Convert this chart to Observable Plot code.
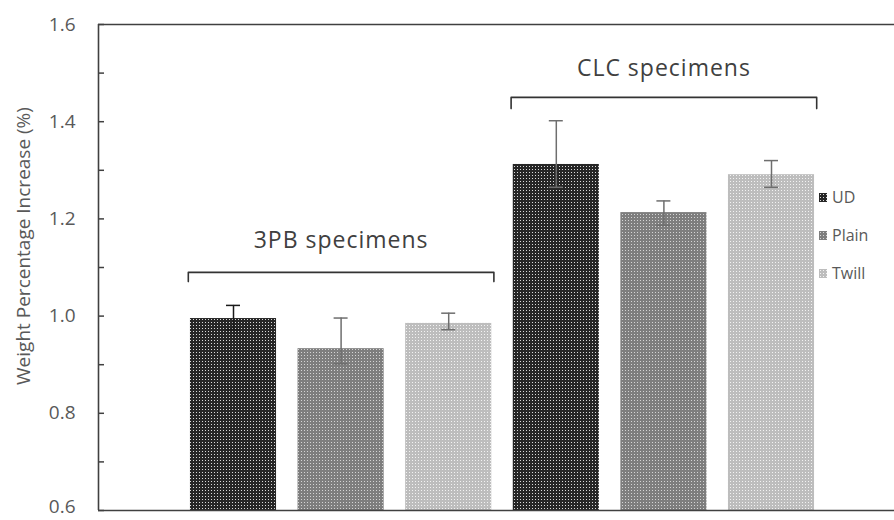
<!DOCTYPE html>
<html>
<head>
<meta charset="utf-8">
<script src="https://cdn.jsdelivr.net/npm/d3@7"></script>
<script src="https://cdn.jsdelivr.net/npm/@observablehq/plot@0.6"></script>
<style>
  body { margin: 0; background: #fff; }
  #wrap { position: relative; width: 894px; height: 520px; font-family: "Open Sans", sans-serif; }
  .leg { position: absolute; left: 819px; display: flex; align-items: center; font-size: 16px; color: #595959; height: 20px; }
  .leg svg { margin-right: 5px; }
</style>
</head>
<body>
<div id="wrap"></div>
<script>
// ---- data ----
const groups = ["3PB specimens", "CLC specimens"];
const series = ["UD", "Plain", "Twill"];
const mean3PB = [0.995, 0.933, 0.985];
const meanCLC = [1.312, 1.213, 1.291];
const errLow3PB = [0.972, 0.902, 0.972];
const errHigh3PB = [1.022, 0.996, 1.006];
const errLowCLC = [1.265, 1.187, 1.265];
const errHighCLC = [1.402, 1.237, 1.320];
const bracketY = [1.09, 1.45];
const bracketDrop = [1.071, 1.427];
const groupLabelY = [1.156, 1.509];
const yLabelTicks = [0.6, 0.8, 1.0, 1.2, 1.4, 1.6];
const yMinorTicks = [0.6, 0.7, 0.8, 0.9, 1.0, 1.1, 1.2, 1.3, 1.4, 1.5, 1.6];
const yTitle = "Weight Percentage Increase (%)";

// ---- build table ----
const means = [mean3PB, meanCLC], lows = [errLow3PB, errLowCLC], highs = [errHigh3PB, errHighCLC];
const rows = [];
groups.forEach((g, gi) => series.forEach((s, si) => rows.push({
  group: g, gi, series: s, idx: gi * 3 + si,
  mean: means[gi][si], lo: lows[gi][si], hi: highs[gi][si]
})));
const brackets = [];
groups.forEach((g, gi) => {
  const a = gi * 3 - 0.42, b = gi * 3 + 2 + 0.42;
  brackets.push({g, x: a, y: bracketDrop[gi]}, {g, x: a, y: bracketY[gi]}, {g, x: b, y: bracketY[gi]}, {g, x: b, y: bracketDrop[gi]});
});
const groupLabels = groups.map((g, gi) => ({g, x: gi * 3 + 1, y: groupLabelY[gi]}));

const fills = {UD: "url(#pUD)", Plain: "url(#pPlain)", Twill: "url(#pTwill)"};
const W = 894, H = 520, ML = 98, MR = 0, MT = 24, MB = 10;
const step = 107.6;
const x0 = -(233 - ML) / step;
const x1 = x0 + (W - ML - MR) / step;
const tickLen = 6 / step;
const axisColor = "#404040";

const marks = [];
series.forEach(s => {
  marks.push(Plot.rectY(rows.filter(d => d.series === s), {
    x1: d => d.idx - 0.4, x2: d => d.idx + 0.4, y1: 0.6, y2: "mean", fill: fills[s]
  }));
});
const errColor = d => (d.gi === 0 && d.series === "UD") ? "#1a1a1a" : "#6e6e6e";
marks.push(
  Plot.ruleX(rows, {x: "idx", y1: "lo", y2: "hi", stroke: errColor, strokeWidth: 1.5}),
  Plot.ruleY(rows, {y: "hi", x1: d => d.idx - 0.065, x2: d => d.idx + 0.065, stroke: errColor, strokeWidth: 1.5}),
  Plot.ruleY(rows, {y: "lo", x1: d => d.idx - 0.065, x2: d => d.idx + 0.065, stroke: errColor, strokeWidth: 1.5}),
  Plot.line(brackets, {x: "x", y: "y", z: "g", stroke: "#333", strokeWidth: 1.6, strokeLinejoin: "round"}),
  Plot.text(groupLabels, {x: "x", y: "y", text: "g", fontSize: 23, fill: "#404040", fontFamily: "Open Sans"}),
  Plot.ruleY(yMinorTicks, {y: d => d, x1: x0, x2: x0 + tickLen, stroke: axisColor, strokeWidth: 1.5}),
  Plot.ruleY([0.6, 1.6], {y: d => d, x1: x0, x2: x1, stroke: axisColor, strokeWidth: 1.6}),
  Plot.ruleX([x0], {x: d => d, y1: 0.6, y2: 1.6, stroke: axisColor, strokeWidth: 1.6}),
  Plot.axisY(yLabelTicks, {tickSize: 0, tickPadding: 23, tickFormat: d3.format(".1f"), fontSize: 19, color: "#595959", label: null})
);

const chart = Plot.plot({
  width: W, height: H,
  marginLeft: ML, marginRight: MR, marginTop: MT, marginBottom: MB,
  style: {fontFamily: "Open Sans", background: "#fff", overflow: "visible"},
  x: {domain: [x0, x1], axis: null},
  y: {domain: [0.6, 1.6], axis: null},
  marks
});

const svg = d3.select(chart);
svg.selectAll("text").filter(function () { return this.textContent.includes("specimens"); })
  .attr("letter-spacing", "1px");
// keep the bottom tick label inside the picture
svg.selectAll("text").filter(function () { return this.textContent === "0.6"; })
  .each(function () {
    const t = d3.select(this);
    t.attr("transform", (t.attr("transform") || "") + " translate(0,-4)");
  });
// pattern defs
const defs = svg.insert("defs", ":first-child");
const pats = [["pUD", "#262626", "#dadada"], ["pPlain", "#7e7e7e", "#d4d4d4"], ["pTwill", "#bdbdbd", "#f2f2f2"]];
pats.forEach(([id, bg, dot]) => {
  const p = defs.append("pattern").attr("id", id).attr("patternUnits", "userSpaceOnUse")
    .attr("width", 3).attr("height", 3);
  p.append("rect").attr("width", 3).attr("height", 3).attr("fill", bg);
  p.append("rect").attr("x", 1).attr("y", 1).attr("width", 1).attr("height", 1).attr("fill", dot);
});
// y title
svg.append("text").attr("transform", "translate(23,246) rotate(-90)")
  .attr("text-anchor", "middle").attr("dominant-baseline", "central")
  .attr("font-size", 19).attr("fill", "#595959").attr("font-family", "Open Sans").text(yTitle);

const wrap = document.getElementById("wrap");
wrap.appendChild(chart);
chart.style.position = "absolute"; chart.style.left = "0"; chart.style.top = "0";

// legend
const legY = [197, 235, 273];
series.forEach((s, i) => {
  const div = document.createElement("div");
  div.className = "leg";
  div.style.top = (legY[i] - 10) + "px";
  div.innerHTML = `<svg width="8" height="9"><rect width="8" height="9" fill="${fills[s]}"></rect></svg><span>${s}</span>`;
  wrap.appendChild(div);
});
</script>
</body>
</html>
